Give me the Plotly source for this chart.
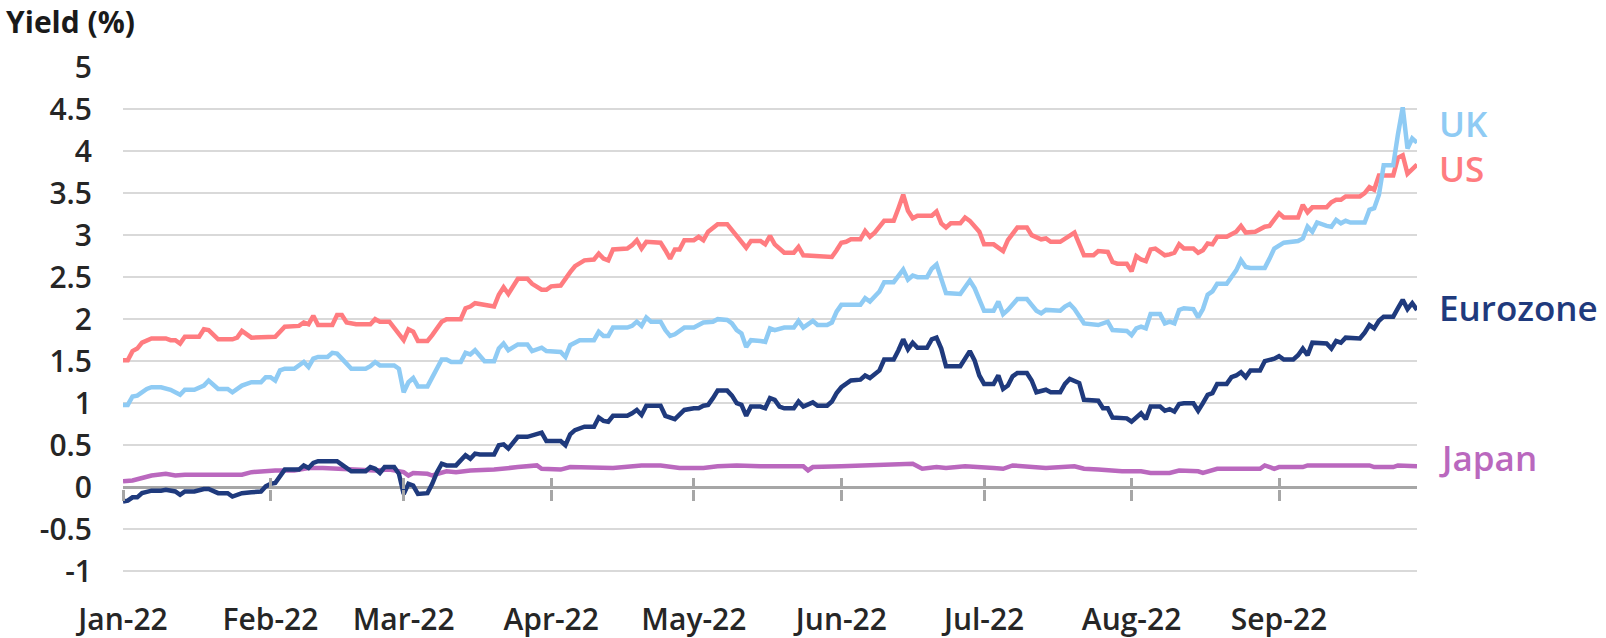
import plotly.graph_objects as go

# ---------------- data (10-year government bond yields, %) ----------------
us_dates = ["2022-01-01","2022-01-02","2022-01-03","2022-01-04","2022-01-05","2022-01-06","2022-01-07","2022-01-10","2022-01-11","2022-01-12","2022-01-13","2022-01-14","2022-01-17","2022-01-18","2022-01-19","2022-01-21","2022-01-24","2022-01-25","2022-01-26","2022-01-28",
"2022-02-01","2022-02-02","2022-02-04","2022-02-07","2022-02-08","2022-02-09","2022-02-10","2022-02-11","2022-02-14","2022-02-15","2022-02-16","2022-02-17","2022-02-19","2022-02-22","2022-02-23","2022-02-24","2022-02-26",
"2022-03-01","2022-03-02","2022-03-03","2022-03-04","2022-03-06","2022-03-07","2022-03-09","2022-03-10","2022-03-13","2022-03-14","2022-03-15","2022-03-16","2022-03-18","2022-03-20","2022-03-21","2022-03-22","2022-03-23","2022-03-25","2022-03-27","2022-03-28","2022-03-30","2022-03-31",
"2022-04-01","2022-04-03","2022-04-05","2022-04-06","2022-04-08","2022-04-10","2022-04-11","2022-04-12","2022-04-13","2022-04-14","2022-04-17","2022-04-18","2022-04-19","2022-04-20","2022-04-21","2022-04-24","2022-04-25","2022-04-26","2022-04-27","2022-04-28","2022-04-29",
"2022-05-01","2022-05-02","2022-05-03","2022-05-04","2022-05-06","2022-05-08","2022-05-09","2022-05-10","2022-05-12","2022-05-13","2022-05-15","2022-05-16","2022-05-17","2022-05-18","2022-05-20","2022-05-22","2022-05-23","2022-05-24","2022-05-27","2022-05-30","2022-05-31",
"2022-06-01","2022-06-02","2022-06-03","2022-06-05","2022-06-06","2022-06-07","2022-06-08","2022-06-10","2022-06-12","2022-06-13","2022-06-14","2022-06-15","2022-06-16","2022-06-17","2022-06-20","2022-06-21","2022-06-22","2022-06-23","2022-06-24","2022-06-26","2022-06-27","2022-06-28","2022-06-30",
"2022-07-01","2022-07-03","2022-07-05","2022-07-06","2022-07-08","2022-07-10","2022-07-11","2022-07-13","2022-07-14","2022-07-15","2022-07-17","2022-07-19","2022-07-20","2022-07-22","2022-07-24","2022-07-25","2022-07-27","2022-07-28","2022-07-29","2022-07-31",
"2022-08-01","2022-08-02","2022-08-03","2022-08-04","2022-08-05","2022-08-06","2022-08-08","2022-08-09","2022-08-10","2022-08-11","2022-08-12","2022-08-14","2022-08-15","2022-08-16","2022-08-17","2022-08-18","2022-08-19","2022-08-21","2022-08-23","2022-08-24","2022-08-25","2022-08-27","2022-08-29","2022-08-30",
"2022-09-01","2022-09-02","2022-09-05","2022-09-06","2022-09-07","2022-09-08","2022-09-11","2022-09-12","2022-09-13","2022-09-14","2022-09-15","2022-09-18","2022-09-19","2022-09-20","2022-09-21","2022-09-22","2022-09-25","2022-09-26","2022-09-27","2022-09-28","2022-09-29","2022-09-30"]
us_yield = [1.51,1.51,1.62,1.65,1.72,1.74,1.77,1.77,1.75,1.75,1.71,1.79,1.79,1.88,1.87,1.76,1.76,1.78,1.86,1.78,
1.78,1.79,1.91,1.92,1.96,1.94,2.04,1.93,1.93,2.05,2.05,1.96,1.94,1.94,2.00,1.97,1.97,
1.75,1.88,1.85,1.74,1.74,1.81,1.97,2.00,2.00,2.13,2.15,2.19,2.17,2.15,2.29,2.38,2.30,2.48,2.48,2.42,2.35,2.35,
2.39,2.40,2.56,2.63,2.70,2.71,2.78,2.72,2.70,2.83,2.84,2.88,2.94,2.84,2.92,2.91,2.82,2.72,2.83,2.83,2.94,
2.94,2.98,2.94,3.04,3.13,3.13,3.06,2.98,2.85,2.93,2.93,2.89,2.99,2.89,2.79,2.79,2.86,2.76,2.75,2.74,2.82,
2.91,2.92,2.95,2.95,3.05,2.98,3.03,3.17,3.17,3.32,3.48,3.29,3.20,3.23,3.23,3.28,3.14,3.09,3.14,3.14,3.21,3.17,3.04,
2.89,2.89,2.81,2.94,3.09,3.09,3.00,2.95,2.96,2.92,2.92,3.00,3.03,2.76,2.76,2.81,2.80,2.68,2.66,2.66,
2.57,2.75,2.71,2.69,2.83,2.84,2.76,2.77,2.79,2.89,2.84,2.84,2.79,2.82,2.90,2.89,2.98,2.98,3.04,3.11,3.03,3.04,3.10,3.11,
3.26,3.21,3.21,3.36,3.27,3.33,3.33,3.39,3.42,3.42,3.46,3.46,3.50,3.57,3.54,3.71,3.71,3.92,3.95,3.73,3.79,3.84]

uk_dates = ["2022-01-01","2022-01-02","2022-01-03","2022-01-04","2022-01-06","2022-01-07","2022-01-09","2022-01-11","2022-01-13","2022-01-14","2022-01-16","2022-01-18","2022-01-19","2022-01-21","2022-01-23","2022-01-24","2022-01-26","2022-01-28","2022-01-30","2022-01-31",
"2022-02-01","2022-02-02","2022-02-03","2022-02-04","2022-02-06","2022-02-08","2022-02-09","2022-02-10","2022-02-11","2022-02-13","2022-02-14","2022-02-15","2022-02-16","2022-02-18","2022-02-21","2022-02-22","2022-02-23","2022-02-24","2022-02-27","2022-02-28",
"2022-03-01","2022-03-02","2022-03-03","2022-03-04","2022-03-06","2022-03-07","2022-03-09","2022-03-10","2022-03-11","2022-03-13","2022-03-14","2022-03-15","2022-03-16","2022-03-18","2022-03-20","2022-03-21","2022-03-22","2022-03-23","2022-03-25","2022-03-27","2022-03-28","2022-03-30","2022-03-31",
"2022-04-03","2022-04-04","2022-04-05","2022-04-06","2022-04-07","2022-04-10","2022-04-11","2022-04-12","2022-04-13","2022-04-14","2022-04-17","2022-04-18","2022-04-19","2022-04-20","2022-04-21","2022-04-22","2022-04-24","2022-04-25","2022-04-26","2022-04-27","2022-04-29",
"2022-05-01","2022-05-03","2022-05-05","2022-05-06","2022-05-08","2022-05-09","2022-05-10","2022-05-11","2022-05-12","2022-05-13","2022-05-15","2022-05-16","2022-05-17","2022-05-18","2022-05-20","2022-05-22","2022-05-23","2022-05-24","2022-05-26","2022-05-27","2022-05-29","2022-05-30","2022-05-31",
"2022-06-01","2022-06-05","2022-06-06","2022-06-07","2022-06-08","2022-06-09","2022-06-10","2022-06-12","2022-06-14","2022-06-15","2022-06-16","2022-06-17","2022-06-19","2022-06-20","2022-06-21","2022-06-22","2022-06-23","2022-06-26","2022-06-27","2022-06-28","2022-06-29","2022-06-30",
"2022-07-01","2022-07-03","2022-07-04","2022-07-05","2022-07-06","2022-07-08","2022-07-10","2022-07-11","2022-07-12","2022-07-13","2022-07-14","2022-07-17","2022-07-18","2022-07-19","2022-07-20","2022-07-22","2022-07-25","2022-07-27","2022-07-28","2022-07-31",
"2022-08-01","2022-08-02","2022-08-03","2022-08-04","2022-08-05","2022-08-07","2022-08-08","2022-08-09","2022-08-10","2022-08-11","2022-08-12","2022-08-14","2022-08-15","2022-08-16","2022-08-17","2022-08-18","2022-08-19","2022-08-21","2022-08-22","2022-08-23","2022-08-24","2022-08-25","2022-08-26","2022-08-29","2022-08-30","2022-08-31",
"2022-09-02","2022-09-05","2022-09-06","2022-09-07","2022-09-08","2022-09-09","2022-09-11","2022-09-12","2022-09-13","2022-09-14","2022-09-15","2022-09-16","2022-09-19","2022-09-20","2022-09-21","2022-09-22","2022-09-23","2022-09-25","2022-09-26","2022-09-27","2022-09-28","2022-09-29","2022-09-30"]
uk_yield = [0.98,0.98,1.08,1.09,1.17,1.19,1.19,1.16,1.10,1.16,1.16,1.21,1.27,1.17,1.17,1.13,1.21,1.25,1.25,1.31,
1.31,1.27,1.39,1.41,1.41,1.49,1.43,1.53,1.55,1.55,1.60,1.59,1.53,1.41,1.41,1.44,1.49,1.45,1.45,1.41,
1.13,1.25,1.30,1.20,1.20,1.31,1.52,1.52,1.49,1.49,1.60,1.58,1.63,1.50,1.50,1.65,1.71,1.63,1.70,1.70,1.62,1.66,1.62,
1.61,1.55,1.69,1.72,1.75,1.75,1.85,1.80,1.80,1.90,1.90,1.92,1.97,1.92,2.02,1.97,1.97,1.87,1.80,1.82,1.90,
1.90,1.96,1.97,2.00,1.99,1.95,1.87,1.83,1.67,1.75,1.74,1.73,1.89,1.87,1.90,1.90,1.98,1.90,1.98,1.93,1.93,1.96,2.09,
2.17,2.17,2.25,2.21,2.27,2.33,2.44,2.44,2.59,2.47,2.52,2.50,2.50,2.60,2.65,2.46,2.31,2.30,2.38,2.46,2.37,2.23,
2.10,2.10,2.21,2.06,2.11,2.24,2.24,2.17,2.10,2.07,2.11,2.10,2.15,2.18,2.12,1.95,1.93,1.97,1.87,1.86,
1.81,1.89,1.91,1.89,2.06,2.06,1.95,1.97,1.95,2.11,2.13,2.12,2.02,2.12,2.29,2.33,2.42,2.42,2.50,2.58,2.70,2.62,2.61,2.61,2.72,2.84,
2.91,2.93,2.96,3.10,3.04,3.15,3.11,3.10,3.18,3.14,3.17,3.15,3.15,3.30,3.32,3.48,3.83,3.83,4.20,4.52,4.03,4.15,4.10]

eur_dates = ["2022-01-01","2022-01-02","2022-01-03","2022-01-04","2022-01-05","2022-01-07","2022-01-09","2022-01-10","2022-01-12","2022-01-13","2022-01-14","2022-01-16","2022-01-18","2022-01-19","2022-01-21","2022-01-23","2022-01-24","2022-01-26","2022-01-28","2022-01-30","2022-01-31",
"2022-02-01","2022-02-02","2022-02-03","2022-02-04","2022-02-07","2022-02-08","2022-02-09","2022-02-10","2022-02-11","2022-02-13","2022-02-14","2022-02-15","2022-02-16","2022-02-18","2022-02-21","2022-02-22","2022-02-23","2022-02-24","2022-02-25","2022-02-27","2022-02-28",
"2022-03-01","2022-03-02","2022-03-03","2022-03-04","2022-03-06","2022-03-07","2022-03-08","2022-03-09","2022-03-10","2022-03-12","2022-03-14","2022-03-15","2022-03-16","2022-03-17","2022-03-20","2022-03-21","2022-03-22","2022-03-23","2022-03-25","2022-03-27","2022-03-29","2022-03-30","2022-03-31",
"2022-04-03","2022-04-04","2022-04-05","2022-04-06","2022-04-08","2022-04-10","2022-04-11","2022-04-12","2022-04-13","2022-04-14","2022-04-17","2022-04-18","2022-04-19","2022-04-20","2022-04-21","2022-04-24","2022-04-25","2022-04-27","2022-04-29",
"2022-05-01","2022-05-02","2022-05-03","2022-05-04","2022-05-05","2022-05-06","2022-05-08","2022-05-09","2022-05-10","2022-05-11","2022-05-12","2022-05-13","2022-05-15","2022-05-16","2022-05-17","2022-05-18","2022-05-19","2022-05-20","2022-05-22","2022-05-23","2022-05-24","2022-05-26","2022-05-27","2022-05-29","2022-05-30","2022-05-31",
"2022-06-01","2022-06-03","2022-06-05","2022-06-06","2022-06-07","2022-06-09","2022-06-10","2022-06-12","2022-06-13","2022-06-14","2022-06-15","2022-06-16","2022-06-17","2022-06-19","2022-06-20","2022-06-21","2022-06-22","2022-06-23","2022-06-26","2022-06-27","2022-06-28","2022-06-29","2022-06-30",
"2022-07-01","2022-07-03","2022-07-04","2022-07-05","2022-07-06","2022-07-07","2022-07-08","2022-07-10","2022-07-11","2022-07-12","2022-07-14","2022-07-15","2022-07-17","2022-07-18","2022-07-19","2022-07-21","2022-07-22","2022-07-25","2022-07-26","2022-07-27","2022-07-28","2022-07-31",
"2022-08-01","2022-08-02","2022-08-03","2022-08-04","2022-08-05","2022-08-07","2022-08-08","2022-08-09","2022-08-10","2022-08-11","2022-08-12","2022-08-14","2022-08-15","2022-08-16","2022-08-17","2022-08-18","2022-08-19","2022-08-21","2022-08-22","2022-08-23","2022-08-24","2022-08-25","2022-08-26","2022-08-28","2022-08-29","2022-08-31",
"2022-09-01","2022-09-02","2022-09-04","2022-09-05","2022-09-06","2022-09-07","2022-09-08","2022-09-11","2022-09-12","2022-09-13","2022-09-14","2022-09-15","2022-09-18","2022-09-19","2022-09-20","2022-09-21","2022-09-22","2022-09-23","2022-09-25","2022-09-26","2022-09-27","2022-09-28","2022-09-29","2022-09-30"]
eur_yield = [-0.17,-0.16,-0.12,-0.12,-0.07,-0.04,-0.04,-0.03,-0.05,-0.09,-0.05,-0.05,-0.02,-0.02,-0.07,-0.07,-0.11,-0.07,-0.06,-0.05,0.01,
0.04,0.05,0.14,0.21,0.21,0.26,0.23,0.29,0.31,0.31,0.30,0.31,0.27,0.19,0.19,0.24,0.22,0.17,0.24,0.24,0.16,
-0.08,0.04,0.02,-0.08,-0.07,0.04,0.18,0.28,0.26,0.26,0.38,0.34,0.40,0.39,0.39,0.50,0.51,0.46,0.60,0.60,0.64,0.65,0.55,
0.55,0.50,0.63,0.68,0.72,0.72,0.83,0.79,0.78,0.85,0.85,0.88,0.92,0.86,0.97,0.97,0.85,0.81,0.92,
0.94,0.94,0.97,0.98,1.06,1.15,1.15,1.09,1.00,0.98,0.85,0.96,0.96,0.94,1.06,1.04,0.96,0.94,0.94,1.02,0.96,1.01,0.97,0.97,1.02,1.12,
1.19,1.27,1.28,1.33,1.30,1.39,1.52,1.52,1.63,1.76,1.64,1.72,1.66,1.66,1.76,1.78,1.65,1.44,1.44,1.53,1.62,1.51,1.33,
1.23,1.23,1.33,1.17,1.21,1.32,1.36,1.36,1.27,1.13,1.16,1.13,1.13,1.23,1.29,1.24,1.04,1.03,0.94,0.94,0.83,0.82,
0.78,0.83,0.88,0.81,0.96,0.96,0.91,0.93,0.90,0.99,1.00,1.00,0.91,1.00,1.10,1.12,1.23,1.23,1.31,1.33,1.37,1.31,1.39,1.39,1.50,1.53,
1.56,1.52,1.52,1.57,1.65,1.57,1.72,1.71,1.65,1.74,1.72,1.78,1.77,1.84,1.93,1.89,1.98,2.03,2.03,2.13,2.23,2.12,2.19,2.11]

jp_dates = ["2022-01-01","2022-01-03","2022-01-05","2022-01-07","2022-01-10","2022-01-12","2022-01-14","2022-01-19","2022-01-23","2022-01-26","2022-01-28",
"2022-02-02","2022-02-06","2022-02-09","2022-02-12","2022-02-16","2022-02-23","2022-02-26",
"2022-03-01","2022-03-02","2022-03-03","2022-03-06","2022-03-07","2022-03-10","2022-03-12","2022-03-15","2022-03-20","2022-03-25","2022-03-29","2022-03-30",
"2022-04-03","2022-04-05","2022-04-10","2022-04-14","2022-04-20","2022-04-24","2022-04-28",
"2022-05-03","2022-05-06","2022-05-10","2022-05-15","2022-05-24","2022-05-25","2022-05-26",
"2022-06-01","2022-06-06","2022-06-14","2022-06-16","2022-06-18","2022-06-21","2022-06-23","2022-06-27",
"2022-07-03","2022-07-05","2022-07-07","2022-07-11","2022-07-14","2022-07-20","2022-07-22","2022-07-25","2022-07-30",
"2022-08-03","2022-08-05","2022-08-09","2022-08-11","2022-08-15","2022-08-16","2022-08-19","2022-08-23","2022-08-25","2022-08-28","2022-08-29","2022-08-31",
"2022-09-01","2022-09-06","2022-09-07","2022-09-14","2022-09-20","2022-09-21","2022-09-25","2022-09-26","2022-09-28","2022-09-30"]
jp_yield = [0.07,0.08,0.11,0.14,0.16,0.14,0.15,0.15,0.14,0.15,0.18,
0.20,0.20,0.23,0.23,0.22,0.20,0.21,
0.18,0.14,0.17,0.16,0.14,0.19,0.18,0.20,0.21,0.24,0.26,0.22,
0.21,0.24,0.24,0.23,0.26,0.26,0.23,
0.23,0.25,0.26,0.25,0.25,0.20,0.24,
0.25,0.26,0.27,0.28,0.22,0.24,0.23,0.25,
0.23,0.22,0.26,0.25,0.23,0.25,0.22,0.21,0.19,
0.19,0.17,0.17,0.20,0.19,0.17,0.22,0.22,0.22,0.22,0.26,0.22,
0.24,0.24,0.26,0.26,0.26,0.24,0.24,0.26,0.25,0.25]

series_names = ["Japan", "Eurozone", "US", "UK"]
series_colors = {"UK": "#8FCBF4", "US": "#FF7C80", "Eurozone": "#1F3A7D", "Japan": "#BA68BE"}
label_levels = {"UK": 4.33, "US": 3.79, "Eurozone": 2.14, "Japan": 0.36}

y_tick_vals = [-1, -0.5, 0, 0.5, 1, 1.5, 2, 2.5, 3, 3.5, 4, 4.5, 5]
y_tick_text = ["-1", "-0.5", "0", "0.5", "1", "1.5", "2", "2.5", "3", "3.5", "4", "4.5", "5"]
x_start, x_end = "2022-01-01", "2022-09-30"

data = {
    "UK": (uk_dates, uk_yield),
    "US": (us_dates, us_yield),
    "Eurozone": (eur_dates, eur_yield),
    "Japan": (jp_dates, jp_yield),
}

FONT = "Open Sans, Noto Sans, sans-serif"
TEXT = "#262626"
AXIS_GREY = "#A6A6A6"

fig = go.Figure()
for name in series_names:
    xs, ys = data[name]
    fig.add_trace(go.Scatter(x=xs, y=ys, mode="lines", name=name,
                             line=dict(color=series_colors[name], width=4.5),
                             showlegend=False))

# empty helper traces so the overlay axes carrying the month ticks on the zero line render
fig.add_trace(go.Scatter(x=[], y=[], xaxis="x2", yaxis="y", showlegend=False, hoverinfo="skip"))
fig.add_trace(go.Scatter(x=[], y=[], xaxis="x3", yaxis="y", showlegend=False, hoverinfo="skip"))

for name in series_names:
    xs, ys = data[name]
    fig.add_annotation(x=xs[-1], y=label_levels[name], xref="x", yref="y",
                       text=name, showarrow=False, xanchor="left", yanchor="middle",
                       xshift=20,
                       font=dict(family=FONT, size=35, color=series_colors[name], weight=600))

fig.add_annotation(x=-0.092, y=1.089, xref="paper", yref="paper", text="Yield (%)",
                   showarrow=False, xanchor="left", yanchor="middle",
                   font=dict(family=FONT, size=30, color="#1A1A1A", weight=700))

tick_axis = dict(type="date", range=[x_start, x_end], tick0=x_start, dtick="M1",
                 overlaying="x", anchor="free", position=1 / 6.02, automargin=False,
                 ticklen=11, tickwidth=2.5, tickcolor=AXIS_GREY,
                 showticklabels=False, showgrid=False, zeroline=False, showline=False)

fig.update_layout(
    width=1606, height=638, autosize=False,
    margin=dict(l=123, r=189, t=67, b=65, autoexpand=False),
    paper_bgcolor="white", plot_bgcolor="white",
    font=dict(family=FONT, size=30, color=TEXT),
    showlegend=False,
    xaxis=dict(type="date", range=[x_start, x_end], tick0=x_start, dtick="M1",
               tickformat="%b-%y", showgrid=False, zeroline=False, showline=False,
               ticks="", ticklabelstandoff=26, automargin=False,
               tickfont=dict(family=FONT, size=30, color=TEXT, weight=600)),
    xaxis2=dict(tick_axis, ticks="outside"),
    xaxis3=dict(tick_axis, ticks="inside"),
    yaxis=dict(range=[-1.02, 5], tickmode="array", tickvals=y_tick_vals, ticktext=y_tick_text,
               showgrid=True, gridcolor="#D9D9D9", gridwidth=2,
               zeroline=True, zerolinecolor=AXIS_GREY, zerolinewidth=2.5,
               showline=False, ticks="", ticklabelstandoff=30, automargin=False,
               tickfont=dict(family=FONT, size=30, color=TEXT, weight=600)),
)

fig.write_html("out.html", config={"displayModeBar": False},
               post_script="document.body.style.margin='0';")
